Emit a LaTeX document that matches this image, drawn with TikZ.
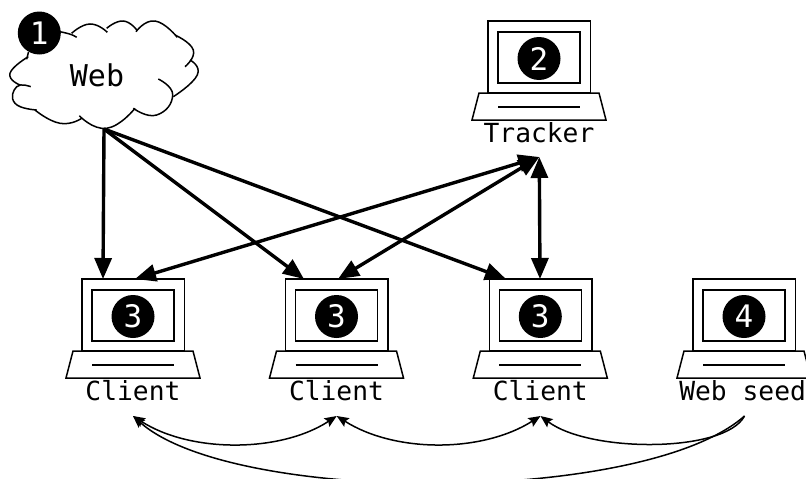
\documentclass[tikz,border=0pt]{standalone}
\usepackage{fontspec}
\setmonofont{DejaVu Sans Mono}
\usetikzlibrary{arrows.meta}
\tikzset{
  part/.style={draw=black,line width=1.5pt,fill=white},
  badge/.style={circle,fill=black,text=white,minimum size=43pt,inner sep=0pt,font=\fontsize{31}{31}\selectfont\ttfamily},
  lbl/.style={inner sep=0pt,font=\fontsize{26.3}{26.3}\selectfont\ttfamily},
  bigarrow/.style={line width=3.4pt,{Triangle[length=21pt,width=17pt]}-{Triangle[length=21pt,width=17pt]}},
  onearrow/.style={line width=3.4pt,-{Triangle[length=21pt,width=17pt]}},
  thinarrow/.style={line width=1.5pt,{Stealth[length=12pt,width=10pt,inset=2pt]}-{Stealth[length=12pt,width=10pt,inset=2pt]}},
  thinone/.style={line width=1.5pt,-{Stealth[length=12pt,width=10pt,inset=2pt]}},
  lobe/.style={line width=1.5pt,draw=black}
}
\newcommand{\laptop}[6]{%
  \begin{scope}[shift={(#1,#2)}]
    \draw[part] (0,0) rectangle (102.5,72);
    \draw[part] (10,11) rectangle (92,62);
    \draw[part] (-9,72) -- (111,72) -- (118,99) -- (-16,99) -- cycle;
    \draw[part] (10,86) -- (92,86);
    \node[badge] (#3b) at (51,37.5) {#4};
    \node[lbl] (#3) at (#6,111.5) {#5};
  \end{scope}}
\begin{document}
\begin{tikzpicture}[x=1pt,y=-1pt]
\useasboundingbox (0,0) rectangle (806,479);
\clip (0,0) rectangle (806,479);
% cloud
\draw[lobe] plot[smooth,tension=0.9] coordinates {(71.7,33.3) (90,24) (107.3,32.3)};
\draw[lobe] plot[smooth,tension=0.9] coordinates {(106.7,28.3) (123.3,21) (137.3,30.7)};
\draw[lobe] plot[smooth,tension=0.9] coordinates {(136,31.7) (155,21) (177.3,37.3)};
\draw[lobe] plot[smooth,tension=0.9] coordinates {(175,35) (193.3,50) (185,66.7)};
\draw[lobe] plot[smooth,tension=0.9] coordinates {(190,60) (197.3,75) (173.3,96.7)};
\draw[lobe] plot[smooth,tension=0.9] coordinates {(158.3,79) (172.7,95) (156.7,115) (133.3,108.3)};
\draw[lobe] plot[smooth,tension=0.9] coordinates {(135,108.3) (106.7,128.3) (79.3,115.7)};
\draw[lobe] plot[smooth,tension=0.9] coordinates {(81.7,118.3) (60,123.3) (35,110)};
\draw[lobe] plot[smooth,tension=0.9] coordinates {(36.7,110) (15,103.3) (16.7,86.7) (30.7,86.7)};
\draw[lobe] plot[smooth,tension=0.9] coordinates {(20,85) (10,73.3) (28.3,56.7)};
\draw[lobe] (26.7,59.3) -- (28.5,52);
\draw[lobe] (60,31.7) .. controls (66,33) and (72,34) .. (76.7,37.3);
\node[badge] (one) at (39.3,33) {1};
\node[inner sep=0pt,font=\fontsize{30}{30}\selectfont\ttfamily] (web) at (97,75) {Web};
% laptops
\laptop{488}{21}{tracker}{2}{Tracker}{51}
\laptop{82}{279}{clienta}{3}{Client}{51}
\laptop{285.5}{279}{clientb}{3}{Client}{51}
\laptop{489.3}{279}{clientc}{3}{Client}{51}
\laptop{693}{279}{seed}{4}{Web seed}{49.6}
% anchors
\coordinate (src) at (104,129);
\coordinate (trk) at (539.3,157);
\coordinate (a1) at (103,279);
\coordinate (a2) at (135,279);
\coordinate (b1) at (304,279);
\coordinate (b2) at (338,279);
\coordinate (c1) at (506,279);
\coordinate (c2) at (540,279);
\coordinate (pa) at (133,416);
\coordinate (pb) at (336.7,416);
\coordinate (pc) at (540.5,416);
\coordinate (pd) at (744.5,416);
\draw[onearrow] (src) -- (a1);
\draw[onearrow] (src) -- (b1);
\draw[onearrow] (src) -- (c1);
\draw[bigarrow] (a2) -- (trk);
\draw[bigarrow] (b2) -- (trk);
\draw[bigarrow] (c2) -- (trk);
\draw[thinarrow] (pa) .. controls (190,453) and (280,453) .. (pb);
\draw[thinarrow] (pb) .. controls (395,453) and (482,453) .. (pc);
\draw[thinone] (pd) .. controls (725,453) and (590,453) .. (pc);
\draw[thinone] (pd) .. controls (644,505) and (233,505) .. (pa);
\end{tikzpicture}
\end{document}
